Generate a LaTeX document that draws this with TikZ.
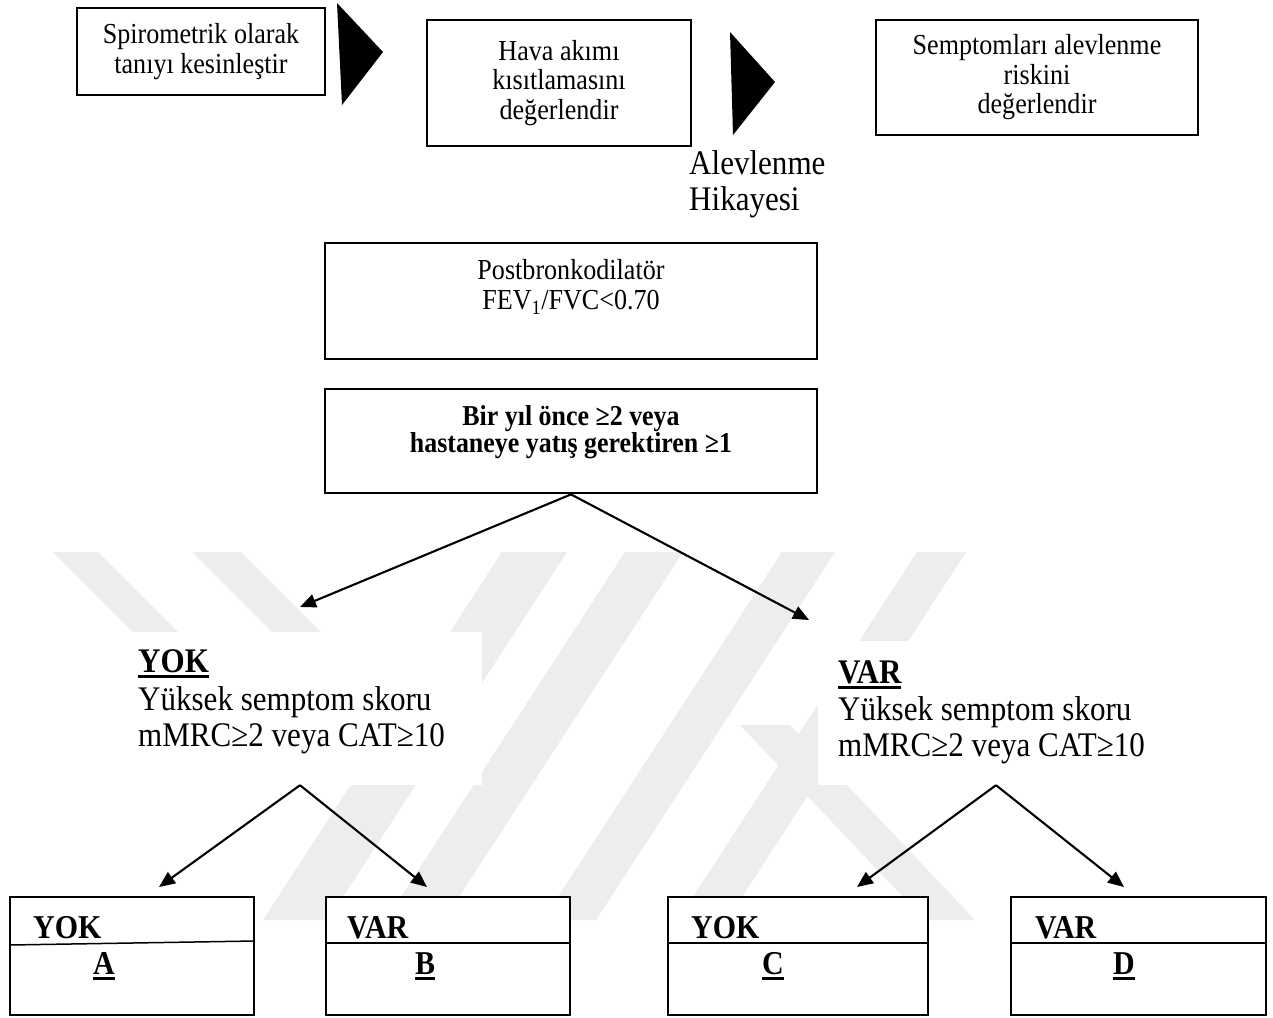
\documentclass[tikz,border=0pt]{standalone}
\usepackage{fontspec}
\setmainfont{Liberation Serif}[FakeStretch=0.9]
\usetikzlibrary{arrows.meta}
\newcommand{\thickul}[1]{\setbox0\hbox{#1}\rlap{\rule[-6pt]{\wd0}{2.8pt}}\box0}
\begin{document}
\begin{tikzpicture}[x=1pt,y=-1pt,
  box/.style={draw, line width=1.6pt, inner sep=0pt, align=center, fill=white},
  plain/.style={inner sep=0pt, align=center},
  topfont/.style={font=\fontsize{29}{29.5}\selectfont},
  bigfont/.style={font=\fontsize{34.5}{36}\selectfont},
  boldfont/.style={font=\fontsize{28.8}{25.5}\selectfont\bfseries},
  cellfont/.style={font=\fontsize{33.3}{34}\selectfont\bfseries},
  arr/.style={line width=2.1pt, -{Triangle[length=16pt,width=13.5pt]}},
  chev/.style={fill=black},
  wm/.style={fill=black!7}]
\useasboundingbox[fill=white] (0,0) rectangle (1273,1017);

% faint watermark bands
\fill[wm] (53,552) -- (98,552) -- (306,760) -- (261,760) -- cycle;
\fill[wm] (192,552) -- (241,552) -- (449,760) -- (400,760) -- cycle;
\fill[wm] (502,552) -- (567,552) -- (328,920) -- (263,920) -- cycle;
\fill[wm] (625,552) -- (683,552) -- (444,920) -- (386,920) -- cycle;
\fill[wm] (782,552) -- (835,552) -- (596,920) -- (543,920) -- cycle;
\fill[wm] (917,552) -- (966,552) -- (727,920) -- (678,920) -- cycle;
\fill[wm] (740,725) -- (790,725) -- (975,920) -- (925,920) -- cycle;

% top row
\node[box, topfont, minimum width=248pt, minimum height=87pt] (b1) at (201,51.5) {Spirometrik olarak\\tanıyı kesinleştir};
\fill[chev] (337,3) -- (383,52) -- (342,105) -- cycle;
\node[box, topfont, minimum width=264pt, minimum height=126pt] (b2) at (559,83) {Hava akımı\\kısıtlamasını\\değerlendir};
\fill[chev] (730,32) -- (775,82) -- (733,135) -- cycle;
\node[box, topfont, minimum width=322pt, minimum height=115pt] (b3) at (1037,77.5) {Semptomları alevlenme\\riskini\\değerlendir};
\node[plain, bigfont, anchor=north west, align=left] (alev) at (689,150) {Alevlenme\\Hikayesi};

% middle boxes
\node[box, minimum width=492pt, minimum height=116pt] (b4) at (571,301) {};
\node[plain, topfont] (b4t) at (571,287) {Postbronkodilatör\\FEV\textsubscript{1}/FVC<0.70};
\node[box, line width=2.8pt, minimum width=492pt, minimum height=104pt] (b5) at (571,441) {};
\node[plain, boldfont] (b5t) at (571,432) {Bir yıl önce ≥2 veya\\hastaneye yatış gerektiren ≥1};

% YOK / VAR blocks
\node[fill=white, inner sep=0pt, minimum width=364pt, minimum height=153pt] (yok) at (300,708.5) {};
\node[plain, bigfont, anchor=base west] (yok1) at (138,672) {\bfseries\thickul{YOK}};
\node[plain, bigfont, anchor=base west] (yok2) at (138,710) {Yüksek semptom skoru};
\node[plain, bigfont, anchor=base west] (yok3) at (138,746) {mMRC≥2 veya CAT≥10};

\node[fill=white, inner sep=0pt, minimum width=356pt, minimum height=144pt] (var) at (996,713) {};
\node[plain, bigfont, anchor=base west] (var1) at (838,683) {\bfseries\thickul{VAR}};
\node[plain, bigfont, anchor=base west] (var2) at (838,720) {Yüksek semptom skoru};
\node[plain, bigfont, anchor=base west] (var3) at (838,756) {mMRC≥2 veya CAT≥10};

\coordinate (tl) at (300,607);
\coordinate (tr) at (809,620);
\draw[arr] (b5.south) -- (tl);
\draw[arr] (b5.south) -- (tr);

% bottom cells
\node[box, line width=2pt, minimum width=244pt, minimum height=118pt] (cA) at (132,956) {};
\node[box, line width=2pt, minimum width=244pt, minimum height=118pt] (cB) at (448,956) {};
\node[box, line width=2pt, minimum width=260pt, minimum height=118pt] (cC) at (798,956) {};
\node[box, line width=2pt, minimum width=255pt, minimum height=118pt] (cD) at (1138.5,956) {};
\draw[line width=1.5pt] ([yshift=11pt]cA.west) -- ([yshift=15pt]cA.east);
\draw[line width=1.5pt] ([yshift=13pt]cB.west) -- ([yshift=13pt]cB.east);
\draw[line width=1.5pt] ([yshift=13pt]cC.west) -- ([yshift=13pt]cC.east);
\draw[line width=1.5pt] ([yshift=13pt]cD.west) -- ([yshift=13pt]cD.east);

\node[plain, cellfont, anchor=base west] (cA1) at (33,938) {YOK};
\node[plain, cellfont, anchor=base west] (cA2) at (93,974) {\thickul{A}};
\node[plain, cellfont, anchor=base west] (cB1) at (347,938) {VAR};
\node[plain, cellfont, anchor=base west] (cB2) at (415,974) {\thickul{B}};
\node[plain, cellfont, anchor=base west] (cC1) at (691,938) {YOK};
\node[plain, cellfont, anchor=base west] (cC2) at (762,974) {\thickul{C}};
\node[plain, cellfont, anchor=base west] (cD1) at (1035,938) {VAR};
\node[plain, cellfont, anchor=base west] (cD2) at (1113,974) {\thickul{D}};

\coordinate (ta) at (159,887);
\coordinate (tb) at (427,887);
\coordinate (tc) at (857,887);
\coordinate (td) at (1124,887);
\draw[arr] (yok.south) -- (ta);
\draw[arr] (yok.south) -- (tb);
\draw[arr] (var.south) -- (tc);
\draw[arr] (var.south) -- (td);
\end{tikzpicture}
\end{document}
